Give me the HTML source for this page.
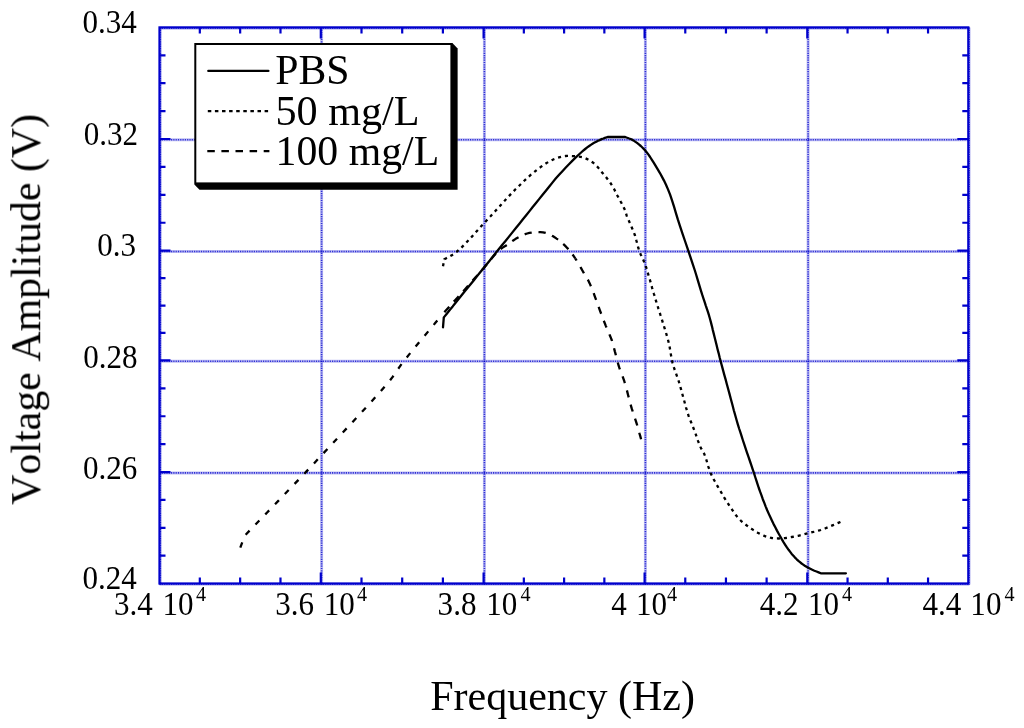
<!DOCTYPE html>
<html lang="en"><head><meta charset="utf-8"><title>Voltage Amplitude vs Frequency</title>
<style>html,body{margin:0;padding:0;background:#fff}body{width:1024px;height:728px;overflow:hidden}svg{display:block}text{font-kerning:none;font-family:'Liberation Serif', serif;fill:#000}</style></head><body>
<svg width="1024" height="728" viewBox="0 0 1024 728">
<rect width="1024" height="728" fill="#fff"/>
<defs><filter id="gs" x="0" y="0" width="100%" height="100%" filterUnits="userSpaceOnUse" color-interpolation-filters="sRGB"><feColorMatrix type="saturate" values="0"/></filter></defs>
<g stroke="#0000cc" stroke-width="3.0" stroke-opacity="0.26" fill="none">
<line x1="160.30" y1="27.40" x2="160.30" y2="584.50"/>
<line x1="321.60" y1="27.40" x2="321.60" y2="584.50"/>
<line x1="484.40" y1="27.40" x2="484.40" y2="584.50"/>
<line x1="645.40" y1="27.40" x2="645.40" y2="584.50"/>
<line x1="808.10" y1="27.40" x2="808.10" y2="584.50"/>
<line x1="969.10" y1="27.40" x2="969.10" y2="584.50"/>
<line x1="159.50" y1="584.30" x2="969.30" y2="584.30"/>
<line x1="159.50" y1="472.90" x2="969.30" y2="472.90"/>
<line x1="159.50" y1="361.20" x2="969.30" y2="361.20"/>
<line x1="159.50" y1="251.50" x2="969.30" y2="251.50"/>
<line x1="159.50" y1="139.80" x2="969.30" y2="139.80"/>
<line x1="159.50" y1="28.20" x2="969.30" y2="28.20"/>
</g>
<g stroke="#0000cc" stroke-width="1.6" stroke-opacity="0.75" stroke-dasharray="1.2 1.1" fill="none">
<line x1="160.30" y1="27.40" x2="160.30" y2="584.50"/>
<line x1="321.60" y1="27.40" x2="321.60" y2="584.50"/>
<line x1="484.40" y1="27.40" x2="484.40" y2="584.50"/>
<line x1="645.40" y1="27.40" x2="645.40" y2="584.50"/>
<line x1="808.10" y1="27.40" x2="808.10" y2="584.50"/>
<line x1="969.10" y1="27.40" x2="969.10" y2="584.50"/>
<line x1="159.50" y1="584.30" x2="969.30" y2="584.30"/>
<line x1="159.50" y1="472.90" x2="969.30" y2="472.90"/>
<line x1="159.50" y1="361.20" x2="969.30" y2="361.20"/>
<line x1="159.50" y1="251.50" x2="969.30" y2="251.50"/>
<line x1="159.50" y1="139.80" x2="969.30" y2="139.80"/>
<line x1="159.50" y1="28.20" x2="969.30" y2="28.20"/>
</g>
<g stroke="#0000cc" stroke-width="2.2" fill="none">
<rect x="159.5" y="27.4" width="808.80" height="556.10"/>
<path d="M199.82,27.4v6M199.82,583.5v-6M240.15,27.4v6M240.15,583.5v-6M280.48,27.4v6M280.48,583.5v-6M320.80,27.4v11M320.80,583.5v-11M361.50,27.4v6M361.50,583.5v-6M402.20,27.4v6M402.20,583.5v-6M442.90,27.4v6M442.90,583.5v-6M483.60,27.4v11M483.60,583.5v-11M523.85,27.4v6M523.85,583.5v-6M564.10,27.4v6M564.10,583.5v-6M604.35,27.4v6M604.35,583.5v-6M644.60,27.4v11M644.60,583.5v-11M685.27,27.4v6M685.27,583.5v-6M725.95,27.4v6M725.95,583.5v-6M766.62,27.4v6M766.62,583.5v-6M807.30,27.4v11M807.30,583.5v-11M847.55,27.4v6M847.55,583.5v-6M887.80,27.4v6M887.80,583.5v-6M928.05,27.4v6M928.05,583.5v-6M159.5,555.65h6M968.3,555.65h-6M159.5,527.80h6M968.3,527.80h-6M159.5,499.95h6M968.3,499.95h-6M159.5,472.10h11M968.3,472.10h-11M159.5,444.18h6M968.3,444.18h-6M159.5,416.25h6M968.3,416.25h-6M159.5,388.32h6M968.3,388.32h-6M159.5,360.40h11M968.3,360.40h-11M159.5,332.97h6M968.3,332.97h-6M159.5,305.55h6M968.3,305.55h-6M159.5,278.12h6M968.3,278.12h-6M159.5,250.70h11M968.3,250.70h-11M159.5,222.77h6M968.3,222.77h-6M159.5,194.85h6M968.3,194.85h-6M159.5,166.93h6M968.3,166.93h-6M159.5,139.00h11M968.3,139.00h-11M159.5,111.10h6M968.3,111.10h-6M159.5,83.20h6M968.3,83.20h-6M159.5,55.30h6M968.3,55.30h-6"/>
</g>
<g stroke="#000" stroke-width="2.3" fill="none" stroke-linejoin="round">
<path d="M240.3,547.6 L244.7,535.7 L255.5,524.5 L266.9,512.7 L278.3,500.9 L289.0,489.7 L298.7,479.6 L306.5,471.4 L309.5,468.3 L311.8,465.7 L313.9,463.5 L316.0,461.2 L318.4,458.6 L321.4,455.4 L330.5,445.7 L342.3,433.0 L355.6,418.8 L368.7,404.6 L380.4,391.5 L389.3,381.2 L392.3,377.4 L394.7,374.1 L396.7,371.1 L398.7,368.2 L400.8,365.1 L403.5,361.5 L408.8,354.9 L414.8,347.5 L421.4,339.5 L428.3,331.3 L435.2,323.1 L441.8,315.2" stroke-dasharray="5.6 8.5"/>
<path d="M441.8,315.2 L445.4,311.0 L448.8,307.2 L452.0,303.6 L455.1,300.2 L458.3,296.7 L461.6,293.0 L465.3,288.9 L469.1,284.6 L472.9,280.3 L476.7,276.1 L480.3,271.9 L483.8,268.0 L486.5,264.8 L489.1,261.6 L491.6,258.5 L494.1,255.6 L496.4,253.0 L498.7,250.7 L500.2,249.4 L501.6,248.4 L503.0,247.4 L504.4,246.5 L505.8,245.7 L507.2,244.7 L508.8,243.6 L510.4,242.5 L512.0,241.3 L513.6,240.2 L515.3,239.1 L517.1,238.1 L519.0,237.1 L521.0,236.0 L523.0,235.1 L525.1,234.2 L527.2,233.5 L529.4,232.9 L532.0,232.5 L534.7,232.2 L537.5,232.1 L540.3,232.2 L543.0,232.4 L545.5,232.9 L547.5,233.5 L549.5,234.3 L551.3,235.3 L553.1,236.3 L554.9,237.4 L556.6,238.6 L558.4,239.8 L560.1,241.2 L561.7,242.6 L563.4,244.1 L565.0,245.6 L566.5,247.2 L568.1,248.9 L569.6,250.7 L571.0,252.5 L572.5,254.4 L573.9,256.4 L575.2,258.3" stroke-dasharray="7.3 6.8" stroke-dashoffset="-4"/>
<path d="M575.2,258.3 L576.5,260.3 L577.7,262.3 L578.9,264.3 L580.1,266.4 L581.2,268.4 L582.4,270.5 L583.6,272.6 L584.8,274.6 L586.1,276.6 L587.3,278.7 L588.5,280.9 L589.7,283.4 L591.4,287.3 L593.1,291.6 L594.8,296.3 L596.5,301.0 L598.1,305.5 L599.6,309.6 L600.7,312.5 L601.7,315.2 L602.7,317.9 L603.7,320.5 L604.7,323.0 L605.7,325.6 L606.8,328.1 L607.9,330.7 L609.0,333.2 L610.0,335.7 L611.0,338.1 L611.9,340.5 L612.5,342.4 L613.0,344.2 L613.5,346.0 L613.9,347.8 L614.4,349.6 L614.9,351.6 L615.6,354.1 L616.3,356.8 L617.0,359.6 L617.7,362.3 L618.5,365.1 L619.3,367.7 L620.1,370.0 L620.9,372.1 L621.7,374.2 L622.6,376.4 L623.4,378.7 L624.3,381.2 L625.5,385.3 L626.8,389.9 L628.0,394.7 L629.3,399.6 L630.5,404.2 L631.7,408.4 L632.6,411.1 L633.4,413.7 L634.2,416.1 L635.0,418.5 L635.8,420.8 L636.6,423.3 L637.4,425.9 L638.1,428.6 L638.9,431.3 L639.6,433.9 L640.4,436.6 L641.1,439.3" stroke-dasharray="7.2 7.5" stroke-dashoffset="4.57"/>
<path d="M443.0,266.3 L444.3,259.3 L446.3,258.2 L448.3,257.1 L450.3,256.1 L452.3,254.9 L454.4,253.6 L456.6,251.9 L460.8,248.2 L465.4,243.6 L470.3,238.4 L475.1,233.0 L479.7,227.9 L483.8,223.5 L486.3,220.8 L488.6,218.3 L490.8,216.0 L492.9,213.6 L495.1,211.3 L497.3,208.9 L499.7,206.3 L502.0,203.6 L504.4,201.0 L506.9,198.3 L509.4,195.6 L512.1,192.8 L515.5,189.3 L519.2,185.7 L523.0,182.0 L526.9,178.3 L530.7,174.9 L534.4,171.8 L537.4,169.5 L540.3,167.3 L543.2,165.2 L546.1,163.3 L548.9,161.7 L551.7,160.2 L553.8,159.2 L555.9,158.4 L558.0,157.7 L560.0,157.1 L562.0,156.6 L564.0,156.2 L565.7,156.0 L567.4,155.9 L569.1,155.9 L570.7,156.0 L572.4,156.1 L574.0,156.2 L575.6,156.3 L577.3,156.5 L578.9,156.6 L580.6,156.9 L582.2,157.2 L583.8,157.7 L585.5,158.3 L587.2,159.1 L588.9,160.0 L590.5,160.9 L592.1,162.0 L593.7,163.2 L595.5,164.8 L597.2,166.6 L598.9,168.5 L600.5,170.5 L602.1,172.5 L603.6,174.3 L604.8,175.7 L605.9,177.0 L606.9,178.3 L607.9,179.6 L608.9,180.8 L609.8,182.1 L610.6,183.2 L611.3,184.3 L612.0,185.4 L612.6,186.5 L613.3,187.6 L613.9,188.7 L614.5,189.8 L615.0,190.9 L615.6,192.0 L616.1,193.1 L616.6,194.2 L617.2,195.3 L617.9,196.5 L618.5,197.8 L619.2,199.0 L620.0,200.2 L620.6,201.5 L621.3,202.7 L621.9,203.8 L622.5,204.9 L623.0,206.0 L623.6,207.1 L624.1,208.2 L624.6,209.3 L625.1,210.5 L625.5,211.8 L625.9,213.0 L626.3,214.3 L626.7,215.6 L627.1,216.8 L627.6,217.9 L628.0,219.0 L628.5,220.1 L629.0,221.1 L629.5,222.2 L630.0,223.3 L630.5,224.5 L631.1,225.8 L631.6,227.1 L632.2,228.4 L632.7,229.6 L633.2,230.8 L633.6,231.8 L634.0,232.7 L634.3,233.6 L634.6,234.5 L635.0,235.5 L635.3,236.5 L635.7,237.8 L636.1,239.2 L636.4,240.6 L636.8,242.0 L637.1,243.5 L637.5,244.8 L637.8,245.9 L638.1,247.1 L638.4,248.2 L638.7,249.2 L639.0,250.3 L639.4,251.4 L639.8,252.5 L640.3,253.6 L640.8,254.7 L641.4,255.8 L641.9,256.9 L642.4,258.0 L642.9,259.1 L643.4,260.1 L643.8,261.2 L644.3,262.3 L644.7,263.4 L645.2,264.6 L645.7,266.1 L646.3,267.7 L646.8,269.4 L647.3,271.1 L647.8,272.8 L648.3,274.5 L648.8,276.3 L649.3,278.0 L649.9,279.8 L650.4,281.6 L650.9,283.5 L651.5,285.5 L652.2,288.1 L653.0,290.7 L653.8,293.5 L654.7,296.3 L655.5,299.2 L656.4,302.1 L657.4,305.3 L658.4,308.6 L659.5,311.9 L660.5,315.2 L661.6,318.5 L662.6,321.9 L663.7,325.4 L664.8,328.9 L665.9,332.4 L666.9,335.9 L667.9,339.4 L668.8,342.9 L669.5,346.2 L670.1,349.6 L670.6,352.9 L671.2,356.2 L671.8,359.5 L672.5,362.7 L673.4,365.8 L674.4,369.0 L675.5,372.0 L676.6,375.1 L677.7,378.2 L678.7,381.2 L679.6,384.1 L680.4,387.0 L681.2,389.9 L682.0,392.8 L682.8,395.7 L683.6,398.6 L684.4,401.5 L685.2,404.5 L686.0,407.5 L686.9,410.4 L687.7,413.2 L688.6,415.9 L689.4,418.1 L690.2,420.1 L691.0,422.0 L691.8,424.0 L692.6,426.0 L693.5,428.2 L694.6,431.2 L695.8,434.4 L696.9,437.8 L698.1,441.1 L699.3,444.1 L700.4,446.8 L701.1,448.3 L701.8,449.5 L702.5,450.7 L703.1,451.9 L703.8,453.1 L704.5,454.6 L705.5,457.2 L706.5,460.3 L707.4,463.5 L708.4,466.8 L709.5,470.1 L710.7,473.2 L712.0,476.0 L713.3,478.7 L714.8,481.3 L716.3,484.0 L717.8,486.6 L719.3,489.2 L720.9,491.9 L722.5,494.6 L724.1,497.4 L725.8,500.1 L727.5,502.7 L729.2,505.3 L730.8,507.7 L732.4,510.1 L733.9,512.4 L735.6,514.7 L737.3,516.9 L739.1,518.9 L741.0,520.8 L743.0,522.5 L745.1,524.2 L747.2,525.8 L749.4,527.3 L751.5,528.8 L753.5,530.1 L755.6,531.4 L757.7,532.7 L759.7,533.8 L761.8,534.8 L763.8,535.7 L765.5,536.3 L767.1,536.9 L768.8,537.3 L770.4,537.7 L772.0,538.0 L773.7,538.2 L775.3,538.4 L777.0,538.4 L778.6,538.5 L780.2,538.4 L781.9,538.3 L783.6,538.2 L785.6,538.0 L787.6,537.7 L789.7,537.4 L791.8,537.0 L793.9,536.6 L796.0,536.2 L798.1,535.8 L800.1,535.3 L802.2,534.8 L804.2,534.3 L806.3,533.7 L808.3,533.2 L810.4,532.7 L812.4,532.2 L814.5,531.7 L816.6,531.2 L818.6,530.6 L820.7,530.0 L822.8,529.3 L824.9,528.5 L827.1,527.6 L829.1,526.8 L831.2,525.9 L833.1,525.1 L834.6,524.5 L836.1,523.8 L837.5,523.2 L838.9,522.6 L840.3,522.0 L841.7,521.4" stroke-dasharray="3.1 3.9"/>
<path d="M443.0,327.3 L443.8,317.4 L446.8,313.7 L449.7,310.0 L452.7,306.4 L455.6,302.7 L458.6,299.0 L461.6,295.3 L464.6,291.5 L467.7,287.8 L470.8,284.0 L473.9,280.2 L476.9,276.4 L480.0,272.6 L483.1,268.8 L486.1,265.0 L489.2,261.2 L492.2,257.4 L495.3,253.5 L498.5,249.6 L501.9,245.3 L505.5,241.0 L509.0,236.6 L512.6,232.1 L516.1,227.7 L519.6,223.4 L522.9,219.3 L526.2,215.2 L529.5,211.1 L532.7,207.0 L536.0,203.0 L539.3,198.9 L542.6,194.8 L545.9,190.7 L549.1,186.7 L552.4,182.6 L555.7,178.6 L559.1,174.8 L562.4,171.2 L565.8,167.5 L569.2,164.0 L572.5,160.6 L575.8,157.4 L578.9,154.5 L581.1,152.5 L583.2,150.7 L585.2,149.0 L587.2,147.4 L589.2,146.0 L591.2,144.6 L592.9,143.5 L594.6,142.6 L596.3,141.7 L598.0,140.8 L599.6,140.1 L601.1,139.4 L602.2,138.9 L603.4,138.5 L604.4,138.1 L605.5,137.7 L606.5,137.4 L607.6,137.0 L625.2,137.0 L626.5,137.5 L627.9,138.0 L629.2,138.5 L630.6,139.0 L631.9,139.6 L633.3,140.4 L635.1,141.6 L637.0,142.9 L638.9,144.4 L640.8,146.0 L642.6,147.8 L644.4,149.6 L646.4,151.9 L648.3,154.4 L650.1,157.0 L651.9,159.8 L653.7,162.6 L655.5,165.6 L657.6,169.1 L659.8,172.8 L661.9,176.6 L664.0,180.6 L666.0,184.8 L667.9,189.1 L670.1,194.7 L672.1,200.7 L674.1,206.9 L676.0,213.3 L677.9,219.7 L680.0,226.2 L682.4,233.4 L685.0,241.0 L687.6,248.6 L690.1,256.2 L692.5,263.4 L694.7,270.0 L696.1,274.5 L697.4,278.8 L698.6,282.9 L699.8,286.9 L701.0,290.8 L702.2,294.7 L703.4,298.3 L704.6,301.8 L705.7,305.3 L706.9,308.8 L708.0,312.2 L709.1,315.7 L710.1,319.2 L711.0,322.6 L711.9,326.1 L712.7,329.6 L713.6,333.1 L714.5,336.7 L715.5,340.7 L716.5,344.8 L717.5,348.9 L718.6,353.1 L719.6,357.3 L720.7,361.5 L721.9,365.9 L723.1,370.4 L724.3,374.9 L725.6,379.4 L726.8,384.0 L728.1,388.7 L729.5,393.9 L730.9,399.3 L732.4,404.8 L733.8,410.2 L735.3,415.5 L736.7,420.5 L737.9,424.6 L739.1,428.5 L740.4,432.4 L741.6,436.2 L742.8,440.0 L744.1,443.9 L745.5,448.1 L746.9,452.4 L748.4,456.7 L749.9,461.0 L751.3,465.2 L752.7,469.4 L754.0,473.2 L755.2,477.0 L756.4,480.7 L757.6,484.3 L758.8,488.0 L760.1,491.7 L761.5,495.4 L762.8,499.2 L764.3,502.9 L765.7,506.6 L767.2,510.3 L768.8,513.9 L770.4,517.3 L772.0,520.7 L773.6,524.1 L775.3,527.3 L777.0,530.6 L778.7,533.7 L780.3,536.5 L781.9,539.4 L783.5,542.1 L785.2,544.8 L786.9,547.4 L788.6,549.8 L790.2,551.9 L791.7,553.9 L793.4,555.8 L795.0,557.6 L796.7,559.3 L798.4,560.9 L800.0,562.2 L801.6,563.5 L803.2,564.6 L804.8,565.7 L806.5,566.8 L808.3,567.8 L810.3,568.8 L812.3,569.8 L814.4,570.7 L816.5,571.5 L818.6,572.4 L820.7,573.3 L845.9,573.3" stroke-linecap="round"/>
</g>
<path d="M452.4,43.0 l5.2,5.4 V189.8 H199.5 l-5.2,-5.4 Z" fill="#000"/>
<rect x="195.3" y="44.0" width="256.1" height="139.4" fill="#fff" stroke="#000" stroke-width="2"/>
<g stroke="#000" stroke-width="2.3" fill="none">
<path d="M208.3,70.9 H268.4" stroke-linecap="round"/>
<path d="M207.8,111.2 H269.4" stroke-dasharray="3.5 3.6"/>
<path d="M207.3,151.2 H269.4" stroke-dasharray="7.5 6.6"/>
</g>
<g filter="url(#gs)">
<g font-size="42.2px">
<text transform="translate(275.2,84.4) scale(0.99,1)">PBS</text>
<text transform="translate(275.4,124.6)">50 mg/L</text>
<text transform="translate(275.6,164.8) scale(0.99,1)">100 mg/L</text>
</g>
<text transform="translate(136.79,32.70) scale(0.93,1)" font-size="33.4px" text-anchor="end">0.34</text>
<text transform="translate(138.01,144.50) scale(0.93,1)" font-size="33.4px" text-anchor="end">0.32</text>
<text transform="translate(136.11,256.40) scale(0.93,1)" font-size="33.4px" text-anchor="end">0.3</text>
<text transform="translate(137.48,368.00) scale(0.93,1)" font-size="33.4px" text-anchor="end">0.28</text>
<text transform="translate(137.23,479.30) scale(0.93,1)" font-size="33.4px" text-anchor="end">0.26</text>
<text transform="translate(136.79,589.00) scale(0.93,1)" font-size="33.4px" text-anchor="end">0.24</text>
<text transform="translate(113.91,615.40) scale(0.93,1)" font-size="33.4px">3.4</text>
<text transform="translate(162.47,615.40) scale(0.93,1)" font-size="33.4px">10</text>
<text transform="translate(196.11,600.60) scale(0.97,1)" font-size="20.8px">4</text>
<text transform="translate(275.21,615.40) scale(0.93,1)" font-size="33.4px">3.6</text>
<text transform="translate(323.67,615.40) scale(0.93,1)" font-size="33.4px">10</text>
<text transform="translate(357.11,600.60) scale(0.97,1)" font-size="20.8px">4</text>
<text transform="translate(437.61,615.40) scale(0.93,1)" font-size="33.4px">3.8</text>
<text transform="translate(486.17,615.40) scale(0.93,1)" font-size="33.4px">10</text>
<text transform="translate(520.41,600.60) scale(0.97,1)" font-size="20.8px">4</text>
<text transform="translate(611.19,615.40) scale(0.93,1)" font-size="33.4px">4</text>
<text transform="translate(635.97,615.40) scale(0.93,1)" font-size="33.4px">10</text>
<text transform="translate(667.11,600.60) scale(0.97,1)" font-size="20.8px">4</text>
<text transform="translate(759.79,615.40) scale(0.93,1)" font-size="33.4px">4.2</text>
<text transform="translate(807.97,615.40) scale(0.93,1)" font-size="33.4px">10</text>
<text transform="translate(842.01,600.60) scale(0.97,1)" font-size="20.8px">4</text>
<text transform="translate(922.49,615.40) scale(0.93,1)" font-size="33.4px">4.4</text>
<text transform="translate(970.37,615.40) scale(0.93,1)" font-size="33.4px">10</text>
<text transform="translate(1004.41,600.60) scale(0.97,1)" font-size="20.8px">4</text>
<text transform="translate(562.5,710.4) scale(0.984,1)" font-size="42.7px" text-anchor="middle">Frequency (Hz)</text>
<text transform="translate(40.2,309.3) rotate(-90) scale(0.9815,1)" font-size="42.7px" text-anchor="middle">Voltage Amplitude (V)</text>
</g>
</svg></body></html>
